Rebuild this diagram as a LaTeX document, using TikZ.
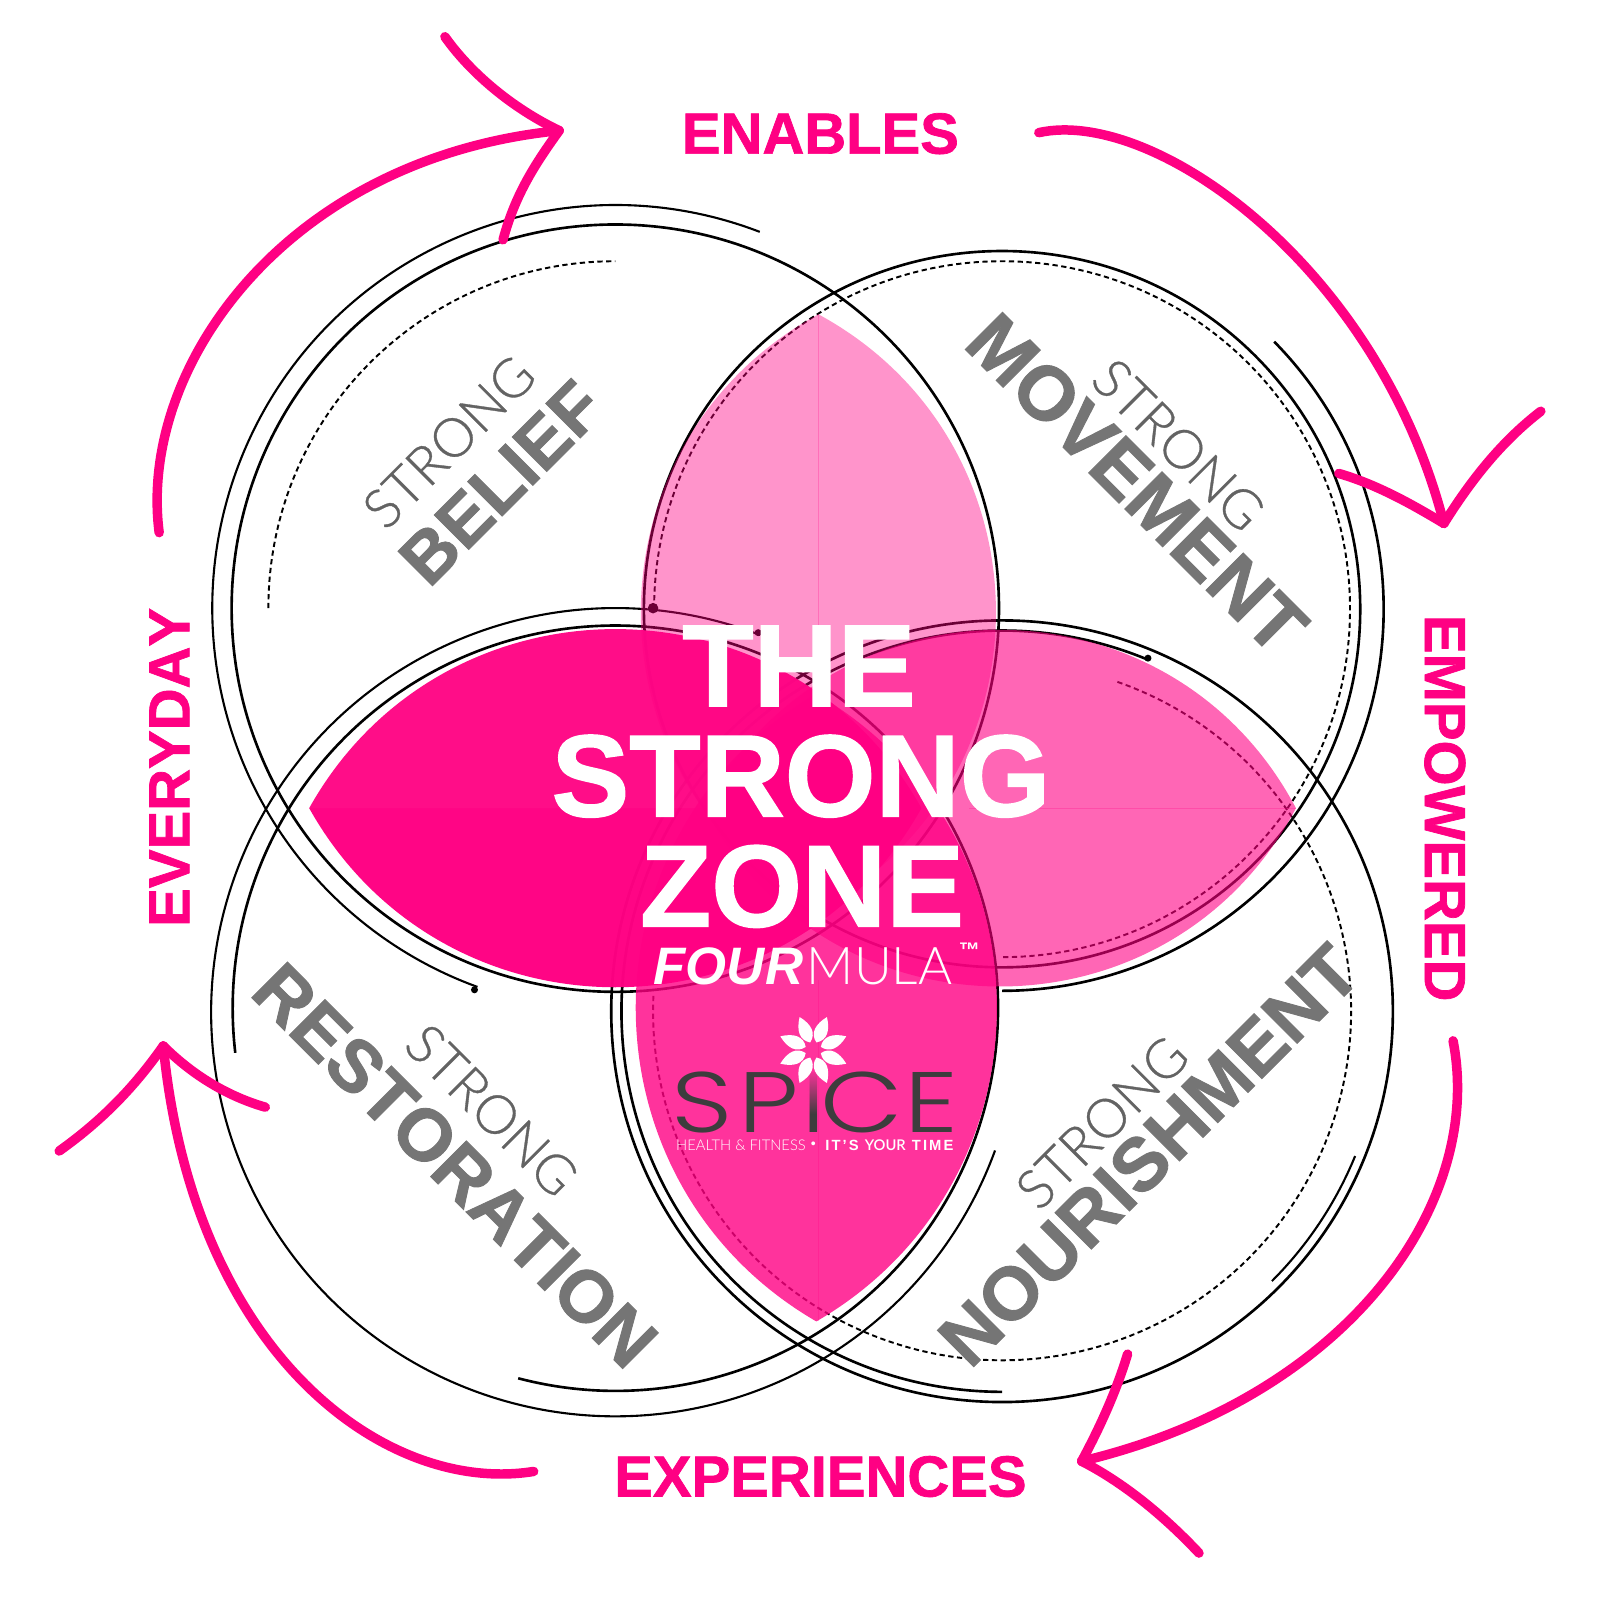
\documentclass[tikz,border=0pt]{standalone}
\usepackage{fontspec}
\usetikzlibrary{fadings}
\setmainfont{Liberation Sans}
\newfontfamily\thinfont{Lato Light}
\newfontfamily\strongfont[FakeBold=0.6]{Lato Light}
\newfontfamily\logofont[FakeStretch=1.25]{Poppins Light}
\newfontfamily\heavyfont[FakeBold=1.2,Kerning=Off]{Liberation Sans Bold}
\definecolor{zonepink}{HTML}{FF0083}
\definecolor{labelgray}{HTML}{757575}
\definecolor{logogray}{HTML}{3D3D3D}
\tikzset{
    every node/.style={inner sep=0pt},
    ring/.style={draw=black,line width=0.75pt},
    thinring/.style={draw=black,line width=0.6pt},
    dashring/.style={draw=black,line width=0.55pt,dash pattern=on 1.5pt off 1pt},
    ringdot/.style={circle,fill=black,minimum size=#1},
    ringdot/.default=3pt,
    petal/.style={fill=zonepink,fill opacity=#1},
    seam/.style={draw=zonepink,line width=0.2pt,opacity=0.25},
    sweep/.style={draw=zonepink,line width=2.7pt,line cap=round},
    cyclelabel/.style={text=zonepink,font=\fontsize{16.5}{16.5}\selectfont\heavyfont},
    zoneline/.style={text=white,anchor=base,font=\fontsize{33.2}{33.2}\selectfont\heavyfont},
    logoletter/.style={text=logogray,anchor=base,font=\fontsize{24.4}{24.4}\selectfont\logofont},
    strongthin/.style={text=labelgray!85!black,font=\fontsize{15.4}{15.4}\selectfont\strongfont},
    strongbold/.style={text=labelgray,font=\fontsize{#1}{#1}\selectfont\heavyfont}}

\begin{document}
\begin{tikzpicture}[x=0.0102041cm,y=-0.0102041cm]
    \useasboundingbox (0,0) rectangle (1568,1568);

    % belief rings
    \coordinate (belief) at (603,596);
    \draw[ring] (belief) circle[radius=376];
    \draw[thinring] (belief) ++(-69:395) arc[start angle=-69,end angle=-250,radius=395];
    \draw[dashring] (belief) ++(180:340) arc[start angle=180,end angle=270,radius=340];

    % movement rings
    \coordinate (movement) at (982,597);
    \draw[ring] (movement) circle[radius=351];
    \draw[ring] (movement) ++(-44.5:374) arc[start angle=-44.5,end angle=90,radius=374];
    \draw[dashring] (movement) ++(180:341) arc[start angle=180,end angle=450,radius=341];

    % restoration rings
    \coordinate (restoration) at (603,992);
    \coordinate (restinner) at (603,988);
    \draw[thinring] (restoration) ++(-69:396) arc[start angle=-69,end angle=-340,radius=396];
    \draw[ring] (restinner) ++(104.7:375) arc[start angle=104.7,end angle=-186.7,radius=375];

    % nourishment rings
    \coordinate (nourish) at (982,991);
    \draw[ring] (nourish) circle[radius=383];
    \draw[ring] (nourish) ++(-67.5:373) arc[start angle=-67.5,end angle=-270,radius=373];
    \draw[thinring] (nourish) ++(45:374) arc[start angle=45,end angle=22.3,radius=374];
    \draw[dashring] (nourish) ++(-70.7:342) arc[start angle=-70.7,end angle=183,radius=342];

    \node[ringdot=3pt] (dotbig) at (640,596) {};
    \node[ringdot=2pt] (dottop) at (743,620) {};
    \node[ringdot=2pt] (dotright) at (1125,645) {};
    \node[ringdot=2pt] (dotleft) at (465,970) {};

    % petals
    \fill[petal=0.98] (303,792) .. controls (434,558) and (772,558) .. (903,792)
        .. controls (772,1026) and (434,1026) .. (303,792);
    \fill[fill=white,opacity=0.03] (303,792) .. controls (434,558) and (772,558) .. (903,792) -- cycle;
    \fill[petal=0.42] (802,308) .. controls (1034,434) and (1034,766) .. (802,892)
        .. controls (570,766) and (570,434) .. (802,308);
    \fill[petal=0.6] (1270,792) .. controls (1147,559) and (813,559) .. (690,792)
        .. controls (813,1025) and (1147,1025) .. (1270,792);
    \fill[petal=0.8] (800,680) .. controls (1036,817) and (1036,1158) .. (800,1295)
        .. controls (564,1158) and (564,817) .. (800,680);
    \draw[seam] (802,308) -- (802,690);
    \draw[seam] (802,960) -- (802,1295);
    \draw[seam] (950,792) -- (1270,792);

    % center text
    \node[zoneline] (the) at (783,692) {THE};
    \node[zoneline] (strong) at (785,800) {STRONG};
    \node[zoneline] (zone) at (786,908) {ZONE};
    \node[text=white,anchor=base west,font=\fontsize{15}{15}\selectfont\bfseries\itshape] (four) at (640,965) {FOUR};
    \node[text=white,anchor=base east,font=\fontsize{14.8}{14.8}\selectfont\thinfont] (mula) at (934,965) {MULA};
    \node[text=white,font=\fontsize{6}{6}\selectfont\bfseries] (tm) at (950,931) {™};

    % logo
    \node[logoletter] (logos) at (688,1110) {S};
    \node[logoletter] (logop) at (753,1110) {P};
    \node[logoletter] (logoi) at (797,1110) {I};
    \node[logoletter] (logoc) at (845,1110) {C};
    \node[logoletter] (logoe) at (913,1110) {E};
    \fill[zonepink!80!white,path fading=south] (791,1048) rectangle (803,1092);
    \foreach \ang in {22.5,67.5,...,337.5}
        \fill[white,shift={(797,1029)},rotate=\ang] (8,0) .. controls (14,-9) and (24,-8) .. (35,0)
            .. controls (24,8) and (14,9) .. (8,0);
    \node[text=white,anchor=base west,font=\fontsize{4.2}{4.2}\selectfont\thinfont] (health) at (662,1127) {HEALTH \& FITNESS};
    \node[text=white,font=\fontsize{4}{4}\selectfont] (bullet) at (797,1122) {•};
    \node[text=white,anchor=base east,font=\fontsize{4.2}{4.2}\selectfont\bfseries] (time) at (935,1127)
        {\addfontfeature{LetterSpace=14}IT'S {\thinfont YOUR} TIME};

    % strong labels
    \node[strongthin,rotate=45] (s1) at (440,433) {STRONG};
    \node[strongbold=20.2,rotate=45] (belieflabel) at (491,473) {BELIEF};
    \node[strongthin,rotate=-45] (s2) at (1155,436) {STRONG};
    \node[strongbold=21.8,rotate=-45] (movelabel) at (1114,474) {MOVEMENT};
    \node[strongthin,rotate=-45] (s3) at (482,1088) {STRONG};
    \node[strongbold=20.9,rotate=-45] (restlabel) at (446,1142) {RESTORATION};
    \node[strongthin,rotate=45] (s4) at (1080,1100) {STRONG};
    \node[strongbold=21.3,rotate=45] (nourishlabel) at (1126,1132) {NOURISHMENT};

    % cycle labels
    \node[cyclelabel] (enables) at (804,131) {ENABLES};
    \node[cyclelabel,rotate=-90] (empowered) at (1416,792) {EMPOWERED};
    \node[cyclelabel] (experiences) at (804,1447) {EXPERIENCES};
    \node[cyclelabel,rotate=90] (everyday) at (166,752) {EVERYDAY};

    % sweeps
    \coordinate (tail1) at (156,522);
    \coordinate (tip1) at (548,128);
    \coordinate (barb1a) at (436,36);
    \coordinate (barb1b) at (493,235);
    \draw[sweep] (tail1) .. controls (135,360) and (280,155) .. (tip1);
    \draw[sweep] (tip1) .. controls (500,105) and (460,70) .. (barb1a);
    \draw[sweep] (tip1) .. controls (525,160) and (505,190) .. (barb1b);

    \coordinate (tail2) at (1018,130);
    \coordinate (tip2) at (1415,513);
    \coordinate (barb2a) at (1510,403);
    \coordinate (barb2b) at (1312,464);
    \draw[sweep] (tail2) .. controls (1130,105) and (1350,260) .. (tip2);
    \draw[sweep] (tip2) .. controls (1445,465) and (1475,430) .. (barb2a);
    \draw[sweep] (tip2) .. controls (1385,495) and (1350,475) .. (barb2b);

    \coordinate (tail3) at (1424,1020);
    \coordinate (tip3) at (1060,1432);
    \coordinate (barb3a) at (1105,1327);
    \coordinate (barb3b) at (1175,1522);
    \draw[sweep] (tail3) .. controls (1455,1180) and (1320,1370) .. (tip3);
    \draw[sweep] (tip3) .. controls (1080,1395) and (1095,1360) .. (barb3a);
    \draw[sweep] (tip3) .. controls (1105,1455) and (1145,1490) .. (barb3b);

    \coordinate (tail4) at (523,1442);
    \coordinate (tip4) at (160,1025);
    \coordinate (barb4a) at (260,1085);
    \coordinate (barb4b) at (58,1128);
    \draw[sweep] (tail4) .. controls (380,1465) and (190,1330) .. (tip4);
    \draw[sweep] (tip4) .. controls (190,1055) and (225,1075) .. (barb4a);
    \draw[sweep] (tip4) .. controls (125,1075) and (90,1105) .. (barb4b);
\end{tikzpicture}
\end{document}
